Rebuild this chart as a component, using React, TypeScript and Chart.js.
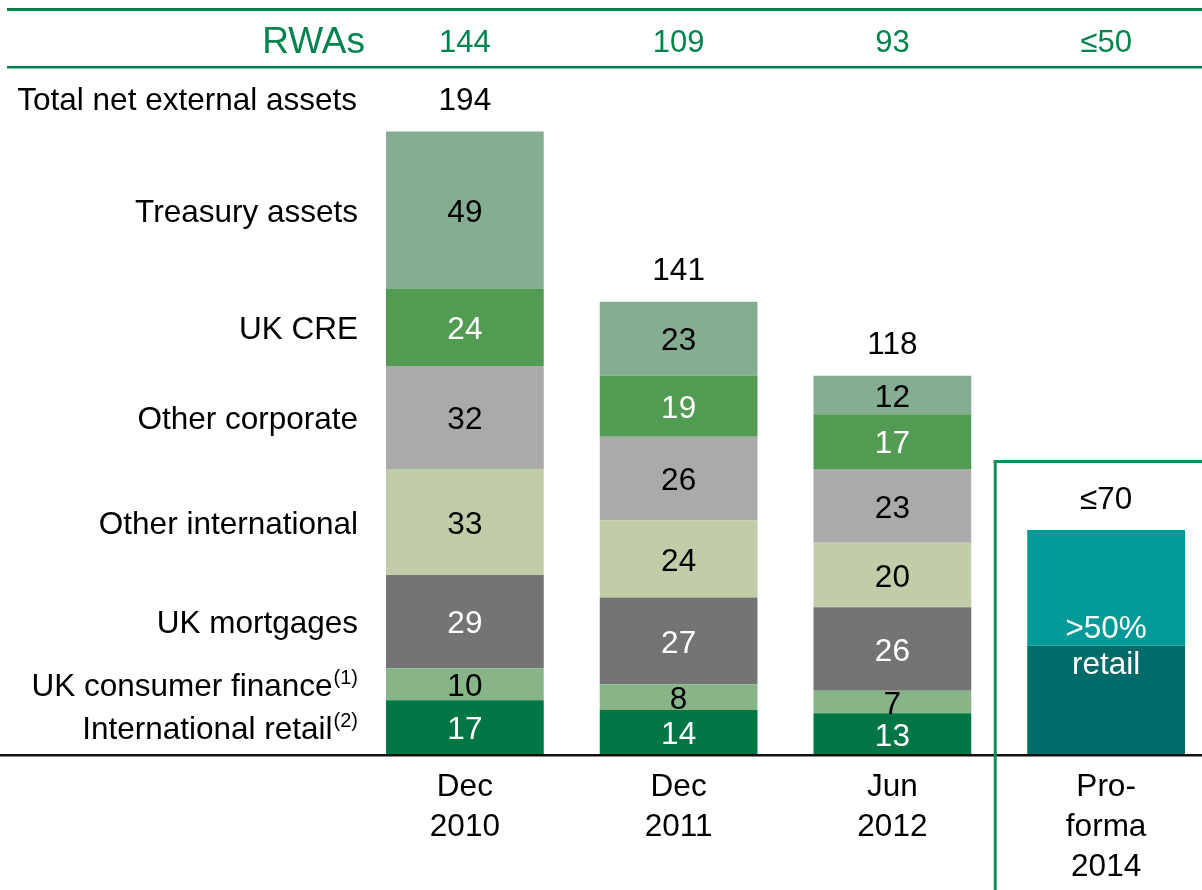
import React, { useEffect, useRef } from 'react';
import { Chart, registerables } from 'chart.js';

Chart.register(...registerables);

const FONT = '"Liberation Sans", Arial, Helvetica, sans-serif';

// ---- data ----
const categories = [['Dec', '2010'], ['Dec', '2011'], ['Jun', '2012'], ['Pro-', 'forma', '2014']];
const rwaLabels = ['144', '109', '93', '≤50'];
const totalLabels = ['194', '141', '118', '≤70'];
const internationalRetail = [17, 14, 13, null];
const ukConsumerFinance = [10, 8, 7, null];
const ukMortgages = [29, 27, 26, null];
const otherInternational = [33, 24, 20, null];
const otherCorporate = [32, 26, 23, null];
const ukCre = [24, 19, 17, null];
const treasuryAssets = [49, 23, 12, null];
const proFormaRetail = [null, null, null, 34];
const proFormaOther = [null, null, null, 36];
const proFormaNote = ['>50%', 'retail'];

const segmentNames = [
  'International retail',
  'UK consumer finance',
  'UK mortgages',
  'Other international',
  'Other corporate',
  'UK CRE',
  'Treasury assets',
];
const segmentNotes = ['(2)', '(1)', '', '', '', '', ''];
const totalRowLabel = 'Total net external assets';
const rwaRowLabel = 'RWAs';

const segmentValues = [
  internationalRetail,
  ukConsumerFinance,
  ukMortgages,
  otherInternational,
  otherCorporate,
  ukCre,
  treasuryAssets,
];
const segmentColors = ['#007645', '#88B588', '#747474', '#C0CDA8', '#AAAAAA', '#529B52', '#84AD91'];
const segmentTextColors = ['#ffffff', '#000000', '#ffffff', '#000000', '#000000', '#ffffff', '#000000'];

const GREEN = '#00844E';
const BOX_GREEN = '#12905C';
const TXT = 31.5;
const DY = 3; // vertical correction for middle-baseline text

const decorPlugin = {
  id: 'decor',
  afterDatasetsDraw(chart: any) {
    const { ctx, scales } = chart;
    const xs = scales.x;
    const ys = scales.y;
    const W = chart.width;
    ctx.save();
    ctx.textBaseline = 'middle';

    // segment value labels + left-hand row labels
    segmentValues.forEach((vals, di) => {
      const meta = chart.getDatasetMeta(di);
      meta.data.forEach((bar: any, i: number) => {
        const v = vals[i];
        if (v == null) return;
        const p = bar.getProps(['x', 'y', 'base'], true);
        const cy = (p.y + p.base) / 2 + DY;
        ctx.font = `${TXT}px ${FONT}`;
        ctx.textAlign = 'center';
        ctx.fillStyle = segmentTextColors[di];
        ctx.fillText(String(v), p.x, cy);
        if (i === 0) {
          const note = segmentNotes[di];
          let right = 358;
          ctx.fillStyle = '#000';
          if (note) {
            ctx.font = `20px ${FONT}`;
            ctx.textAlign = 'right';
            ctx.fillText(note, right, cy - 9);
            right -= ctx.measureText(note).width + 1;
          }
          ctx.font = `${TXT}px ${FONT}`;
          ctx.textAlign = 'right';
          ctx.fillText(segmentNames[di], right, cy);
        }
      });
    });

    // totals above bars
    categories.forEach((_, i) => {
      let sum = 0;
      segmentValues.forEach((vals) => (sum += vals[i] ?? 0));
      sum += (proFormaRetail[i] ?? 0) + (proFormaOther[i] ?? 0);
      const ty = ys.getPixelForValue(sum) - 33 + DY;
      const cx = xs.getPixelForValue(i);
      ctx.font = `${TXT}px ${FONT}`;
      ctx.textAlign = 'center';
      ctx.fillStyle = '#000';
      ctx.fillText(totalLabels[i], cx, ty);
      if (i === 0) {
        ctx.textAlign = 'right';
        ctx.fillText(totalRowLabel, 357, ty);
      }
    });

    // pro-forma note
    const pm = chart.getDatasetMeta(7).data[3];
    if (pm) {
      const p = pm.getProps(['x', 'y'], true);
      ctx.font = `${TXT}px ${FONT}`;
      ctx.textAlign = 'center';
      ctx.fillStyle = '#ffffff';
      ctx.fillText(proFormaNote[0], p.x, p.y - 19 + DY);
      ctx.fillText(proFormaNote[1], p.x, p.y + 17 + DY);
    }

    // header lines + RWAs row
    ctx.fillStyle = GREEN;
    ctx.fillRect(7, 8, W, 3);
    ctx.fillRect(7, 66, W, 2.5);
    ctx.font = `37px ${FONT}`;
    ctx.textAlign = 'right';
    ctx.fillText(rwaRowLabel, 365, 40 + DY);
    ctx.font = `31px ${FONT}`;
    ctx.textAlign = 'center';
    rwaLabels.forEach((t, i) => ctx.fillText(t, xs.getPixelForValue(i), 40 + DY));

    // baseline
    const by = ys.getPixelForValue(0);
    ctx.fillStyle = '#111';
    ctx.fillRect(0, by - 1, W, 2.5);

    // pro-forma box
    const bx = xs.getPixelForValue(2.5) - 4;
    ctx.fillStyle = BOX_GREEN;
    ctx.fillRect(bx - 1.5, 460, 3, 460);
    ctx.fillRect(bx - 1.5, 460, W, 3);

    ctx.restore();
  },
};

export default function App() {
  const ref = useRef<HTMLCanvasElement | null>(null);
  useEffect(() => {
    if (!ref.current) return;
    const datasets: any[] = segmentValues.map((vals, i) => ({
      label: segmentNames[i],
      data: vals,
      backgroundColor: segmentColors[i],
      borderWidth: 0,
    }));
    datasets.push({ label: 'Pro-forma retail', data: proFormaRetail, backgroundColor: '#006B68', borderWidth: 0 });
    datasets.push({ label: 'Pro-forma other', data: proFormaOther, backgroundColor: '#009B98', borderWidth: 0 });

    const chart = new Chart(ref.current, {
      type: 'bar',
      data: { labels: categories as any, datasets },
      options: {
        animation: false,
        responsive: false,
        maintainAspectRatio: false,
        layout: { padding: { left: 358, right: 3, top: 80, bottom: 4 } },
        datasets: { bar: { categoryPercentage: 1, barPercentage: 0.738 } },
        plugins: { legend: { display: false }, tooltip: { enabled: false } },
        scales: {
          x: {
            stacked: true,
            grid: { display: false, drawTicks: false },
            border: { display: false },
            ticks: {
              color: '#000',
              font: { family: FONT, size: TXT, lineHeight: 40 / TXT },
              padding: 12,
              maxRotation: 0,
              autoSkip: false,
            },
          },
          y: { stacked: true, display: false, min: 0, max: 210 },
        },
      } as any,
      plugins: [decorPlugin],
    });
    return () => chart.destroy();
  }, []);

  return (
    <div style={{ position: 'absolute', left: 0, top: 0, width: 1202, height: 890, overflow: 'hidden', background: '#fff' }}>
      <canvas ref={ref} width={1216} height={903} style={{ width: 1216, height: 903, display: 'block' }} />
    </div>
  );
}
